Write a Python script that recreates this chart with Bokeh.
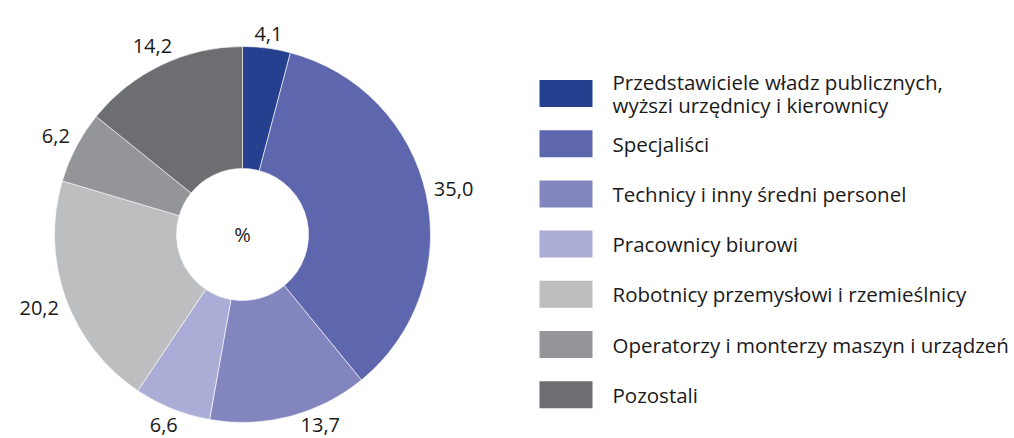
import math
from bokeh.plotting import figure
from bokeh.models import Range1d
from bokeh.core.properties import value
from bokeh.embed import file_html
from bokeh.resources import INLINE

categories = [
    "Przedstawiciele władz publicznych,\nwyższi urzędnicy i kierownicy",
    "Specjaliści",
    "Technicy i inny średni personel",
    "Pracownicy biurowi",
    "Robotnicy przemysłowi i rzemieślnicy",
    "Operatorzy i monterzy maszyn i urządzeń",
    "Pozostali",
]
shares = [4.1, 35.0, 13.7, 6.6, 20.2, 6.2, 14.2]
colors = ["#25408f", "#5e67ad", "#8385bf", "#abadd7", "#bdbec0", "#939598", "#6d6e72"]
center_label = "%"

W, H = 1014, 438
FONT = "Open Sans"
FS = 20
TXT = "#1a1a1a"

p = figure(width=W, height=H, output_backend="svg", toolbar_location=None,
           x_range=Range1d(0, W), y_range=Range1d(0, H), min_border=0)
p.axis.visible = False
p.grid.visible = False
p.outline_line_color = None
p.background_fill_color = "white"
p.border_fill_color = "white"

cx, cy = 242, H - 234
R_out, R_in = 188, 66
total = sum(shares)
y_min = FS * 0.7

starts, ends, lx, ly, ltxt = [], [], [], [], []
cum = 0.0
for v in shares:
    a0 = math.pi / 2 - 2 * math.pi * cum / total
    cum += v
    a1 = math.pi / 2 - 2 * math.pi * cum / total
    starts.append(a0)
    ends.append(a1)
    mid = (a0 + a1) / 2
    s = f"{v:.1f}".replace(".", ",")
    w = len(s) * 0.55 * FS
    h = FS * 0.7
    r = R_out + 5 + abs(math.cos(mid)) * w / 2 + abs(math.sin(mid)) * h / 2
    x = cx + r * math.cos(mid)
    y = cy + r * math.sin(mid)
    if y < y_min:
        # slide label along its circle so that it stays inside the frame
        y = y_min
        dy = y - cy
        x = cx + math.copysign(math.sqrt(max(r * r - dy * dy, 0.0)), math.cos(mid))
    lx.append(x)
    ly.append(y)
    ltxt.append(s)

p.annular_wedge(x=cx, y=cy, inner_radius=R_in, outer_radius=R_out,
                start_angle=starts, end_angle=ends, direction="clock",
                fill_color=colors, line_color="white", line_width=0.6)

p.text(x=lx, y=ly, text=ltxt, text_font=value(FONT), text_font_size=f"{FS}px",
       text_color=TXT, text_align="center", text_baseline="middle")
p.text(x=[cx], y=[cy], text=[center_label], text_font=value(FONT),
       text_font_size=f"{FS}px", text_color=TXT, text_align="center",
       text_baseline="middle")

# legend
leg_x, leg_y0, leg_dy = 565.5, H - 93, 50.2
ys = [leg_y0 - i * leg_dy for i in range(len(categories))]
p.rect(x=[leg_x] * len(categories), y=ys, width=53, height=27,
       fill_color=colors, line_color=None)
tx, ty, tt = [], [], []
line_gap = 23
for yc, cat in zip(ys, categories):
    lines = cat.split("\n")
    n = len(lines)
    for k, ln in enumerate(lines):
        tx.append(612)
        ty.append(yc + (n - 1) * line_gap / 2 - k * line_gap)
        tt.append(ln)
p.text(x=tx, y=ty, text=tt, text_font=value(FONT),
       text_font_size="20.5px", text_color=TXT, text_align="left",
       text_baseline="middle")

open("out.html", "w").write(file_html(p, INLINE))
